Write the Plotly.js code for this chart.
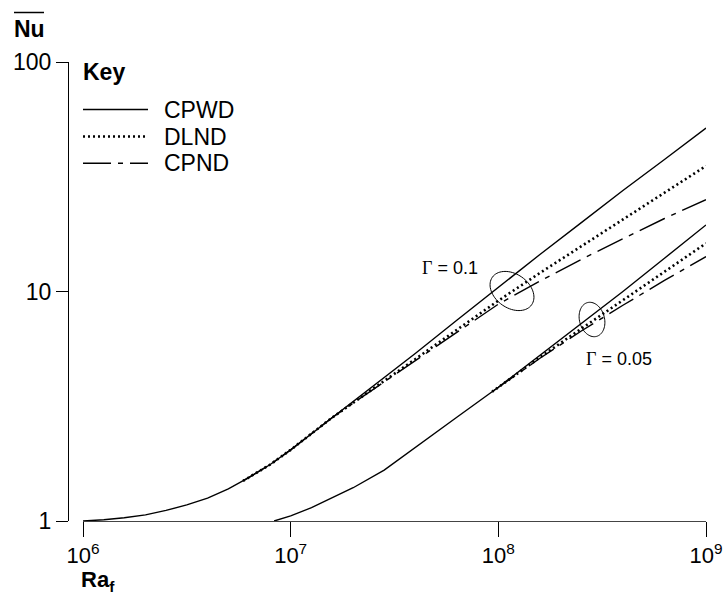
<!DOCTYPE html>
<html>
<head>
<meta charset="utf-8">
<script src="https://cdn.plot.ly/plotly-3.0.1.min.js"></script>
<style>html,body{margin:0;padding:0;background:#fff;}#chart{width:725px;height:595px;}</style>
</head>
<body>
<div id="chart"></div>
<script>
// ---- data ----
const seriesNames = ['CPWD', 'DLND', 'CPND'];

// Gamma = 0.1
const raG1Cpwd = [1.0e6, 1.26e6, 1.58e6, 2.0e6, 2.51e6, 3.16e6, 3.98e6, 5.01e6, 6.31e6, 7.94e6, 1.0e7, 1.26e7, 1.58e7, 2.51e7, 3.98e7, 6.31e7, 1.0e8, 1.58e8, 2.51e8, 3.98e8, 6.31e8, 1.0e9];
const nuG1Cpwd = [1.00, 1.012, 1.033, 1.064, 1.112, 1.175, 1.259, 1.380, 1.549, 1.758, 2.042, 2.399, 2.818, 3.890, 5.370, 7.499, 10.47, 14.45, 19.95, 27.54, 37.58, 51.52];
const raG1Nd = [5.9e6, 7.94e6, 1.0e7, 1.26e7, 1.58e7, 2.51e7, 3.98e7, 6.31e7, 1.0e8, 1.58e8, 2.51e8, 3.98e8, 6.31e8, 1.0e9];
const nuG1Dlnd = [1.496, 1.758, 2.042, 2.399, 2.818, 3.784, 5.070, 6.839, 9.120, 12.02, 15.74, 20.65, 26.92, 35.24];
const nuG1Cpnd = [1.496, 1.758, 2.042, 2.399, 2.818, 3.758, 4.989, 6.683, 8.810, 11.09, 13.80, 16.98, 20.80, 25.12];

// Gamma = 0.05
const raG2Cpwd = [8.32e6, 1.0e7, 1.26e7, 1.58e7, 2.0e7, 2.82e7, 3.98e7, 6.31e7, 1.0e8, 1.58e8, 2.51e8, 3.98e8, 6.31e8, 1.0e9];
const nuG2Cpwd = [1.0, 1.052, 1.143, 1.256, 1.396, 1.667, 2.099, 2.831, 3.828, 5.248, 7.211, 10.0, 13.96, 19.50];
const raG2Nd = [9.33e7, 1.58e8, 2.51e8, 3.98e8, 6.31e8, 1.0e9];
const nuG2Dlnd = [3.656, 5.152, 6.887, 9.162, 12.19, 16.22];
const nuG2Cpnd = [3.656, 5.105, 6.730, 8.710, 11.17, 14.19];

const xTickVals = [1e6, 1e7, 1e8, 1e9];
const xTickText = ['10<sup>6</sup>', '10<sup>7</sup>', '10<sup>8</sup>', '10<sup>9</sup>'];
const yTickVals = [1, 10, 100];
const yTickText = ['1', '10', '100'];
const legendTitle = 'Key';

// ---- styles ----
const FONT = 'Liberation Sans, Arial, sans-serif';
const styles = {
  CPWD: {color: '#000', width: 1.4, dash: 'solid'},
  DLND: {color: '#000', width: 2.6, dash: '2px,3px'},
  CPND: {color: '#000', width: 1.4, dash: '28px,7px,5px,7px'}
};

function tr(x, y, name) {
  return {x: x, y: y, name: name, type: 'scatter', mode: 'lines',
          line: styles[name], showlegend: false, hoverinfo: 'skip'};
}

const data = [
  tr(raG1Cpwd, nuG1Cpwd, 'CPWD'),
  tr(raG1Nd, nuG1Dlnd, 'DLND'),
  tr(raG1Nd, nuG1Cpnd, 'CPND'),
  tr(raG2Cpwd, nuG2Cpwd, 'CPWD'),
  tr(raG2Nd, nuG2Dlnd, 'DLND'),
  tr(raG2Nd, nuG2Cpnd, 'CPND')
];

// page geometry for decoration (paper coords)
const W = 725, H = 595, ML = 68, MR = 19, MT = 62, MB = 74;
const PW = W - ML - MR, PH = H - MT - MB;
function px2paper(px, py) { return [(px - ML) / PW, (H - MB - py) / PH]; }
function ellipsePath(cx, cy, a, b, deg) {
  const th = deg * Math.PI / 180;
  let d = '';
  for (let i = 0; i <= 72; i++) {
    const t = i / 72 * 2 * Math.PI;
    const x = cx + a * Math.cos(t) * Math.cos(th) - b * Math.sin(t) * Math.sin(th);
    const y = cy + a * Math.cos(t) * Math.sin(th) + b * Math.sin(t) * Math.cos(th);
    const p = px2paper(x, y);
    d += (i === 0 ? 'M' : 'L') + p[0].toFixed(5) + ',' + p[1].toFixed(5);
  }
  return d + 'Z';
}
const ol0 = px2paper(14, 12.5), ol1 = px2paper(44, 12.5);

const annotations = [
  {xref: 'paper', yref: 'paper', x: px2paper(29, 0)[0], y: px2paper(0, 29)[1],
   text: '<b>Nu</b>', showarrow: false, xanchor: 'center', yanchor: 'middle',
   font: {size: 23, family: FONT}},
  {xref: 'paper', yref: 'paper', x: px2paper(79, 0)[0], y: px2paper(0, 581)[1],
   text: '<b>Ra<sub>f</sub></b>', showarrow: false, xanchor: 'left', yanchor: 'middle',
   font: {size: 22, family: FONT}},
  {xref: 'paper', yref: 'paper', x: px2paper(450, 0)[0], y: px2paper(0, 268)[1],
   text: '<span style="font-family:Liberation Serif">Γ</span> = 0.1', showarrow: false,
   xanchor: 'center', yanchor: 'middle', font: {size: 18, family: FONT}},
  {xref: 'paper', yref: 'paper', x: px2paper(619, 0)[0], y: px2paper(0, 359)[1],
   text: '<span style="font-family:Liberation Serif">Γ</span> = 0.05', showarrow: false,
   xanchor: 'center', yanchor: 'middle', font: {size: 18, family: FONT}},
  {xref: 'paper', yref: 'paper', x: px2paper(81, 0)[0], y: px2paper(0, 72)[1],
   text: '<b>' + legendTitle + '</b>', showarrow: false, xanchor: 'left', yanchor: 'middle',
   font: {size: 23, family: FONT}}
];

const shapes = [
  {type: 'line', xref: 'paper', yref: 'paper', x0: ol0[0], y0: ol0[1], x1: ol1[0], y1: ol1[1],
   line: {color: '#000', width: 1.5}},
  {type: 'path', xref: 'paper', yref: 'paper', path: ellipsePath(512, 291, 24, 17, 35),
   line: {color: '#000', width: 1}},
  {type: 'path', xref: 'paper', yref: 'paper', path: ellipsePath(592, 319.5, 17.5, 12.5, 75),
   line: {color: '#000', width: 1}}
];

// key (legend) entries
const keyRows = [109.5, 136.5, 163.3];
seriesNames.forEach(function (nm, i) {
  const a = px2paper(83, keyRows[i]), b = px2paper(148, keyRows[i]);
  shapes.push({type: 'line', xref: 'paper', yref: 'paper', x0: a[0], y0: a[1], x1: b[0], y1: b[1],
               line: styles[nm]});
  annotations.push({xref: 'paper', yref: 'paper', x: px2paper(162, 0)[0], y: px2paper(0, keyRows[i])[1],
                    text: nm, showarrow: false, xanchor: 'left', yanchor: 'middle',
                    font: {size: 23, family: FONT}});
});

const layout = {
  width: W, height: H,
  margin: {l: ML, r: MR, t: MT, b: MB, pad: 0},
  paper_bgcolor: '#fff', plot_bgcolor: '#fff',
  font: {family: FONT, size: 23, color: '#000'},
  showlegend: false,
  xaxis: {
    type: 'log', range: [6, 9], domain: [15 / PW, 1],
    showline: true, linecolor: '#444', linewidth: 1,
    ticks: 'outside', ticklen: 15, tickcolor: '#000', tickwidth: 1,
    tickvals: xTickVals, ticktext: xTickText,
    tickfont: {size: 22, family: FONT},
    showgrid: false, zeroline: false, fixedrange: true
  },
  yaxis: {
    type: 'log', range: [0, 2], anchor: 'free', position: 0,
    showline: true, linecolor: '#000', linewidth: 1,
    ticks: 'outside', ticklen: 12, tickcolor: '#000', tickwidth: 1,
    tickvals: yTickVals, ticktext: yTickText,
    tickfont: {size: 23, family: FONT},
    showgrid: false, zeroline: false, fixedrange: true
  },
  annotations: annotations,
  shapes: shapes
};

Plotly.newPlot('chart', data, layout, {displayModeBar: false, staticPlot: true});
</script>
</body>
</html>
